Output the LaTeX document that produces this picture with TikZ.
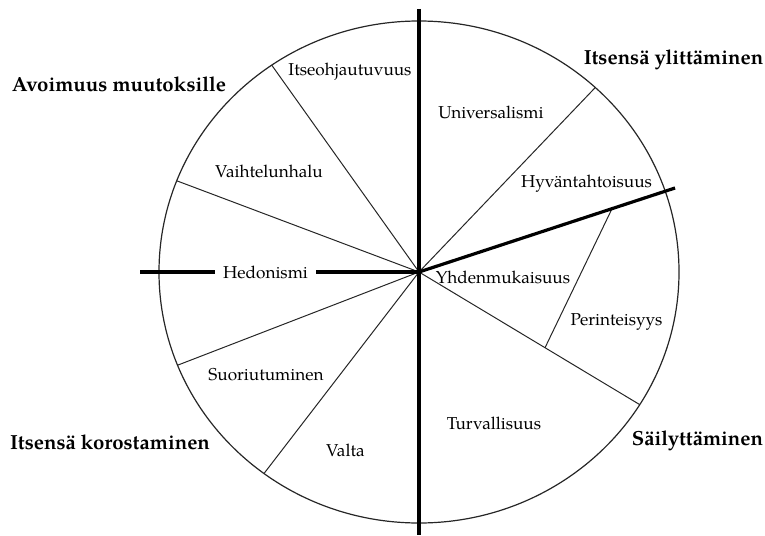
\documentclass[tikz,border=0pt]{standalone}
\usepackage{fontspec}
\setmainfont{texgyrepagella}[Extension=.otf, UprightFont=*-regular, BoldFont=*-bold, ItalicFont=*-italic, BoldItalicFont=*-bolditalic]
\usetikzlibrary{calc}
\begin{document}
\begin{tikzpicture}[x=1pt,y=-1pt,
  lab/.style={font=\fontsize{17.2}{20}\selectfont, inner sep=0pt, anchor=base},
  ttl/.style={font=\fontsize{20.4}{23}\selectfont\bfseries, inner sep=0pt, anchor=base},
  spoke/.style={line width=1pt, black!85},
  rim/.style={line width=1.2pt, black!85},
  axisline/.style={line width=3.2pt, black}]
\useasboundingbox (0,0) rectangle (765,535);
\coordinate (c) at (419,272);
% rim
\draw[rim] (c) ellipse [x radius=260, y radius=251];
% spoke ends on the rim
\coordinate (pItse) at (271.7,65.1);
\coordinate (pVaih) at (176.8,180.8);
\coordinate (pSuor) at (177.6,365.2);
\coordinate (pValt) at (264.0,473.5);
\coordinate (pUniv) at (595.3,87.5);
\coordinate (pTurv) at (639.7,404.6);
\coordinate (pThick) at (675,188);
\coordinate (vTop) at (419,9);
\coordinate (vBot) at (419,535);
\coordinate (hLeft) at (140,272);
% thin spokes
\draw[spoke] (c) -- (pItse);
\draw[spoke] (c) -- (pVaih);
\draw[spoke] (c) -- (pSuor);
\draw[spoke] (c) -- (pValt);
\draw[spoke] (c) -- (pUniv);
\draw[spoke] (c) -- (pTurv);
% Perinteisyys chord
\coordinate (chA) at ($(c)!0.754!(pThick)$);
\coordinate (chB) at ($(c)!0.571!(pTurv)$);
\draw[spoke] (chA) -- (chB);
% labels
\node[lab] (itse) at (350,75) {Itseohjautuvuus};
\node[lab] (vaih) at (269,177) {Vaihtelunhalu};
\node[lab, inner xsep=8pt] (hed) at (265.5,278) {Hedonismi};
\node[lab] (suor) at (266,380) {Suoriutuminen};
\node[lab] (valt) at (345.5,456) {Valta};
\node[lab] (turv) at (494,429) {Turvallisuus};
\node[lab] (yhde) at (503,283) {Yhdenmukaisuus};
\node[lab] (peri) at (616.5,325) {Perinteisyys};
\node[lab] (hyva) at (586.5,187) {Hyväntahtoisuus};
\node[lab] (univ) at (491,118) {Universalismi};
% titles
\node[ttl] (avo) at (119,92) {Avoimuus muutoksille};
\node[ttl] (ylit) at (673.5,64) {Itsensä ylittäminen};
\node[ttl] (koro) at (110,449) {Itsensä korostaminen};
\node[ttl] (sail) at (697.5,445) {Säilyttäminen};
% thick axes
\draw[axisline] (vTop) -- (vBot);
\draw[axisline] (c) -- (pThick);
\draw[axisline] (hLeft) -- (hed.west |- c);
\draw[axisline] (hed.east |- c) -- (c);
\end{tikzpicture}
\end{document}
